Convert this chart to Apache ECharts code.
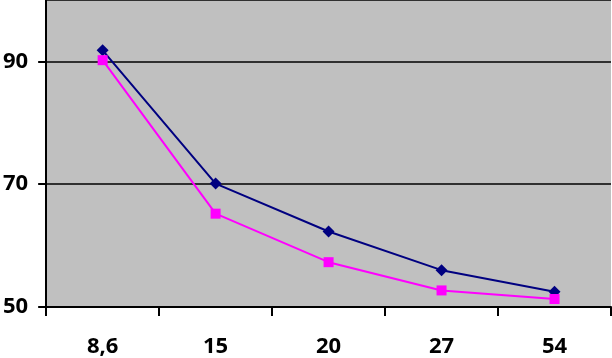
<!DOCTYPE html>
<html>
<head>
<meta charset="utf-8">
<script src="https://cdn.jsdelivr.net/npm/echarts@6/dist/echarts.min.js"></script>
<style>
  html, body { margin: 0; padding: 0; background: #fff; }
  #chart { width: 612px; height: 358px; }
</style>
</head>
<body>
<div id="chart"></div>
<script>
var categories = ["8,6", "15", "20", "27", "54"];
var seriesBlue = [91.8, 70.1, 62.3, 56.0, 52.5];
var seriesPink = [90.2, 65.2, 57.3, 52.7, 51.3];
var yTicks = [50, 70, 90];

var myChart = echarts.init(document.getElementById("chart"));
var labelFont = {
  color: "#000",
  fontSize: 22,
  fontWeight: "bold",
  fontFamily: "Open Sans"
};
var option = {
  animation: false,
  grid: {
    left: 43,
    right: 1,
    top: -1,
    bottom: 50,
    show: true,
    backgroundColor: "#c0c0c0",
    borderWidth: 0
  },
  xAxis: {
    type: "category",
    data: categories,
    boundaryGap: true,
    axisLine: { lineStyle: { color: "#000", width: 2 } },
    axisTick: { show: true, length: 9, inside: false, lineStyle: { color: "#000", width: 2 } },
    axisLabel: Object.assign({ margin: 29 }, labelFont),
    splitLine: { show: false }
  },
  yAxis: {
    type: "value",
    min: yTicks[0],
    max: 100,
    interval: 20,
    axisLine: { show: true, lineStyle: { color: "#000", width: 2 } },
    axisTick: { show: true, length: 8, lineStyle: { color: "#000", width: 2 } },
    axisLabel: Object.assign({
      margin: 18,
      showMaxLabel: false,
      formatter: function (v) {
        return yTicks.indexOf(v) >= 0 ? String(v) : "";
      }
    }, labelFont),
    splitLine: { show: true, lineStyle: { color: "#000", width: 1.5 } }
  },
  series: [
    {
      name: "A",
      type: "line",
      data: seriesBlue,
      symbol: "diamond",
      symbolSize: 12,
      lineStyle: { color: "#000080", width: 2 },
      itemStyle: { color: "#000080" }
    },
    {
      name: "B",
      type: "line",
      data: seriesPink,
      symbol: "rect",
      symbolSize: 10,
      lineStyle: { color: "#ff00ff", width: 2 },
      itemStyle: { color: "#ff00ff" }
    }
  ]
};
myChart.setOption(option, true);
</script>
</body>
</html>
